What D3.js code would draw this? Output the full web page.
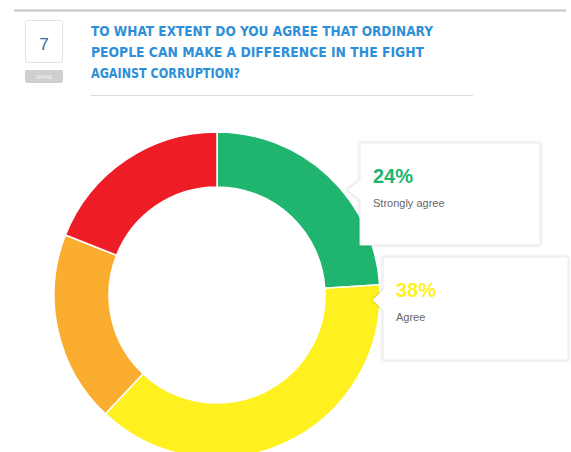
<!DOCTYPE html>
<html>
<head>
<meta charset="utf-8">
<script src="https://cdn.jsdelivr.net/npm/d3@7"></script>
<style>
  body { margin: 0; background: #fff; }
  svg { display: block; }
</style>
</head>
<body>
<div id="chart"></div>
<script>
// data
var categories = ["Strongly agree", "Agree", "Disagree", "Strongly disagree"];
var values = [24, 38, 19, 19];
var colors = ["#1fb56f", "#fff01f", "#fbad2f", "#ee1c24"];
var questionNumber = "7";
var titleLines = [
  "TO WHAT EXTENT DO YOU AGREE THAT ORDINARY",
  "PEOPLE CAN MAKE A DIFFERENCE IN THE FIGHT",
  "AGAINST CORRUPTION?"
];
var titleWidths = [342, 333, 149];
var callouts = [0, 1]; // which slices get a label box

var width = 571, height = 452;

var svg = d3.select("#chart").append("svg")
  .attr("width", width)
  .attr("height", height);

// #### header ####
svg.append("line")
  .attr("x1", 14).attr("x2", 566)
  .attr("y1", 10.5).attr("y2", 10.5)
  .attr("stroke", "#c4c4c4")
  .attr("stroke-width", 2);

svg.append("rect")
  .attr("x", 25.5).attr("y", 20.5)
  .attr("width", 37).attr("height", 42)
  .attr("rx", 2)
  .attr("fill", "#fff")
  .attr("stroke", "#e2e2e2");

svg.append("text")
  .attr("x", 44).attr("y", 50)
  .attr("text-anchor", "middle")
  .attr("font-family", "Liberation Sans, Arial, sans-serif")
  .attr("font-size", 17)
  .attr("fill", "#3a6b9a")
  .text(questionNumber);

svg.append("rect")
  .attr("x", 25).attr("y", 70)
  .attr("width", 38).attr("height", 13)
  .attr("rx", 2)
  .attr("fill", "#cfcfcf");

svg.append("text")
  .attr("x", 44).attr("y", 79)
  .attr("text-anchor", "middle")
  .attr("font-family", "Liberation Sans, Arial, sans-serif")
  .attr("font-size", 5)
  .attr("fill", "#f4f4f4")
  .text("SHARE");

var title = svg.append("g").attr("class", "title");
title.selectAll("text")
  .data(titleLines)
  .enter().append("text")
  .attr("x", 91)
  .attr("y", function(d, i) { return 35.5 + i * 21; })
  .attr("textLength", function(d, i) { return titleWidths[i]; })
  .attr("lengthAdjust", "spacingAndGlyphs")
  .attr("font-family", "Liberation Sans Narrow, DejaVu Sans Condensed, Arial Narrow, sans-serif")
  .attr("font-weight", "bold")
  .attr("font-size", 14.5)
  .attr("fill", "#2e8fd8")
  .text(function(d) { return d; });

svg.append("line")
  .attr("x1", 91).attr("x2", 473)
  .attr("y1", 95.5).attr("y2", 95.5)
  .attr("stroke", "#dcdcdc")
  .attr("stroke-width", 1);

// #### donut ####
var cx = 217, cy = 295;
var outerR = 163, innerR = 108;

var pie = d3.pie().sort(null).value(function(d) { return d; });
var arc = d3.arc().innerRadius(innerR).outerRadius(outerR);

var donut = svg.append("g")
  .attr("transform", "translate(" + cx + "," + cy + ")");

donut.selectAll("path")
  .data(pie(values))
  .enter().append("path")
  .attr("d", arc)
  .attr("fill", function(d, i) { return colors[i]; })
  .attr("stroke", "#fff")
  .attr("stroke-width", 1.5);

// #### callout boxes ####
var boxes = [
  {x: 360, y: 143, w: 180, h: 102, tipX: 347, tipY: 190},
  {x: 383, y: 257, w: 185, h: 103, tipX: 373, tipY: 300}
];

var defs = svg.append("defs");
var shadow = defs.append("filter").attr("id", "shadow")
  .attr("x", "-10%").attr("y", "-10%").attr("width", "120%").attr("height", "120%");
shadow.append("feDropShadow")
  .attr("dx", 0).attr("dy", 0).attr("stdDeviation", 1.5)
  .attr("flood-color", "#000").attr("flood-opacity", 0.18);

var labels = svg.selectAll("g.callout")
  .data(callouts)
  .enter().append("g")
  .attr("class", "callout");

labels.append("path")
  .attr("d", function(d, i) {
    var b = boxes[i];
    return "M" + b.x + "," + b.y +
      "H" + (b.x + b.w) + "V" + (b.y + b.h) + "H" + b.x +
      "V" + (b.tipY + 10) + "L" + b.tipX + "," + b.tipY +
      "L" + b.x + "," + (b.tipY - 10) + "Z";
  })
  .attr("fill", "#fff")
  .attr("stroke", "#ececec")
  .attr("filter", "url(#shadow)");

labels.append("text")
  .attr("x", function(d, i) { return boxes[i].x + 13; })
  .attr("y", function(d, i) { return boxes[i].y + 40; })
  .attr("font-family", "Liberation Sans, Arial, sans-serif")
  .attr("font-weight", "bold")
  .attr("font-size", 20)
  .attr("fill", function(d) { return colors[d]; })
  .text(function(d) { return values[d] + "%"; });

labels.append("text")
  .attr("x", function(d, i) { return boxes[i].x + 13; })
  .attr("y", function(d, i) { return boxes[i].y + 64; })
  .attr("font-family", "Liberation Sans, Arial, sans-serif")
  .attr("font-size", 11)
  .attr("fill", "#666")
  .text(function(d) { return categories[d]; });
</script>
</body>
</html>
